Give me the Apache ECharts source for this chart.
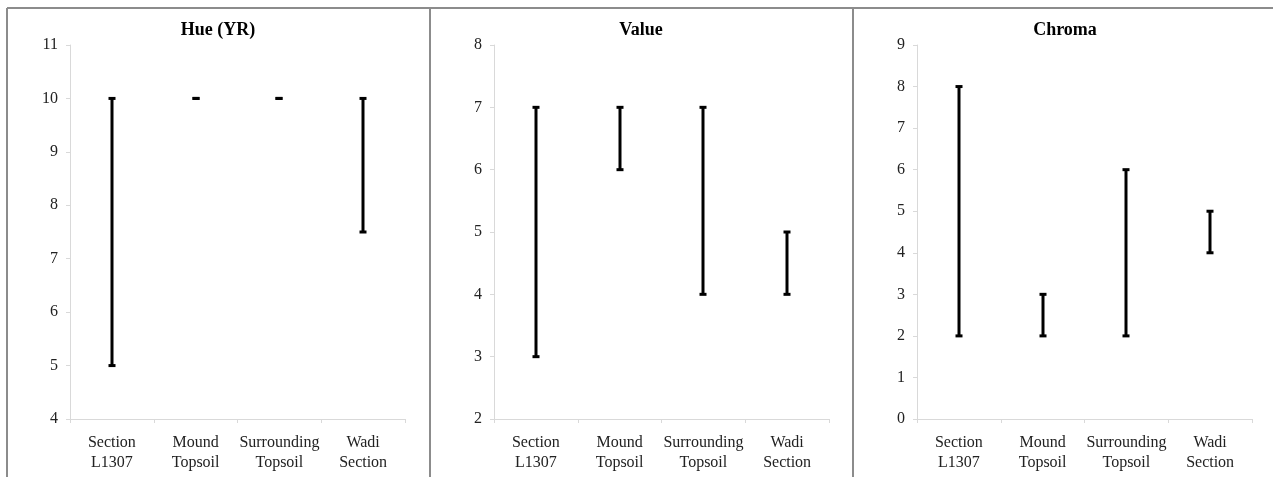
<!DOCTYPE html>
<html>
<head>
<meta charset="utf-8">
<style>
  html, body { margin: 0; padding: 0; background: #fff; }
  #chart { width: 1273px; height: 477px; }
</style>
<script src="https://cdn.jsdelivr.net/npm/echarts@6/dist/echarts.min.js"></script>
</head>
<body>
<div id="chart"></div>
<script>
// Soil colour (Munsell) ranges per sampling context
const categories = ['Section\nL1307', 'Mound\nTopsoil', 'Surrounding\nTopsoil', 'Wadi\nSection'];

const hueLow = [5, 10, 10, 7.5];
const hueHigh = [10, 10, 10, 10];

const valueLow = [3, 6, 4, 4];
const valueHigh = [7, 7, 7, 5];

const chromaLow = [2, 2, 2, 4];
const chromaHigh = [8, 3, 6, 5];

const panelTitles = ['Hue (YR)', 'Value', 'Chroma'];
const yMins = [4, 2, 0];
const yMaxs = [11, 8, 9];
const yStep = 1;

const FONT = "'Liberation Serif', 'Times New Roman', serif";
const AXIS_GREY = '#d9d9d9';

const chart = echarts.init(document.getElementById('chart'), null, { renderer: 'canvas' });

// Vertical min–max line with small end caps
function renderRange(params, api) {
  const idx = api.value(0);
  const lo = api.coord([idx, api.value(1)]);
  const hi = api.coord([idx, api.value(2)]);
  const cx = Math.round(lo[0]);
  const capW = 7, capH = 3;
  const children = [];
  if (lo[1] - hi[1] > 0.5) {
    children.push({
      type: 'line',
      shape: { x1: cx, y1: hi[1], x2: cx, y2: lo[1] },
      style: { stroke: '#000', lineWidth: 3 }
    });
  }
  children.push({ type: 'rect', shape: { x: cx - capW / 2, y: hi[1] - capH / 2, width: capW, height: capH }, style: { fill: '#000' } });
  children.push({ type: 'rect', shape: { x: cx - capW / 2, y: lo[1] - capH / 2, width: capW, height: capH }, style: { fill: '#000' } });
  return { type: 'group', children };
}

const lows = [hueLow, valueLow, chromaLow];
const highs = [hueHigh, valueHigh, chromaHigh];
const gridLefts = [70, 494, 917];
const panelCentres = [218, 641, 1065];

const grids = [], xAxes = [], yAxes = [], series = [];
for (let p = 0; p < 3; p++) {
  grids.push({ left: gridLefts[p], top: 45, width: 335, height: 374 });
  xAxes.push({
    type: 'category',
    gridIndex: p,
    data: categories,
    boundaryGap: true,
    axisLine: { lineStyle: { color: AXIS_GREY, width: 1 } },
    axisTick: { show: true, length: 4, lineStyle: { color: AXIS_GREY } },
    axisLabel: { fontFamily: FONT, fontSize: 16, color: '#222', lineHeight: 20, margin: 14, interval: 0 },
    splitLine: { show: false }
  });
  yAxes.push({
    type: 'value',
    gridIndex: p,
    min: yMins[p],
    max: yMaxs[p],
    interval: yStep,
    axisLine: { show: true, lineStyle: { color: AXIS_GREY, width: 1 } },
    axisTick: { show: true, length: 4, lineStyle: { color: AXIS_GREY } },
    axisLabel: { fontFamily: FONT, fontSize: 16, color: '#222', margin: 12 },
    splitLine: { show: false }
  });
  series.push({
    type: 'custom',
    xAxisIndex: p,
    yAxisIndex: p,
    renderItem: renderRange,
    encode: { x: 0, y: [1, 2] },
    data: categories.map((c, i) => [i, lows[p][i], highs[p][i]]),
    silent: true
  });
}

// Panel frames and titles
const FRAME = '#8c8c8c';
const graphics = [
  { type: 'line', shape: { x1: 7, y1: 8, x2: 1273, y2: 8 } },
  { type: 'line', shape: { x1: 7, y1: 8, x2: 7, y2: 477 } },
  { type: 'line', shape: { x1: 430, y1: 8, x2: 430, y2: 477 } },
  { type: 'line', shape: { x1: 853, y1: 8, x2: 853, y2: 477 } }
].map(g => Object.assign(g, { style: { stroke: FRAME, lineWidth: 2 }, silent: true }));

panelTitles.forEach((t, p) => {
  graphics.push({
    type: 'text',
    x: panelCentres[p],
    y: 30,
    silent: true,
    style: {
      text: t,
      font: "bold 18px 'Liberation Serif', 'Times New Roman', serif",
      fill: '#000',
      align: 'center',
      verticalAlign: 'middle'
    }
  });
});

chart.setOption({
  animation: false,
  backgroundColor: '#fff',
  grid: grids,
  xAxis: xAxes,
  yAxis: yAxes,
  series: series,
  graphic: graphics
});
</script>
</body>
</html>
